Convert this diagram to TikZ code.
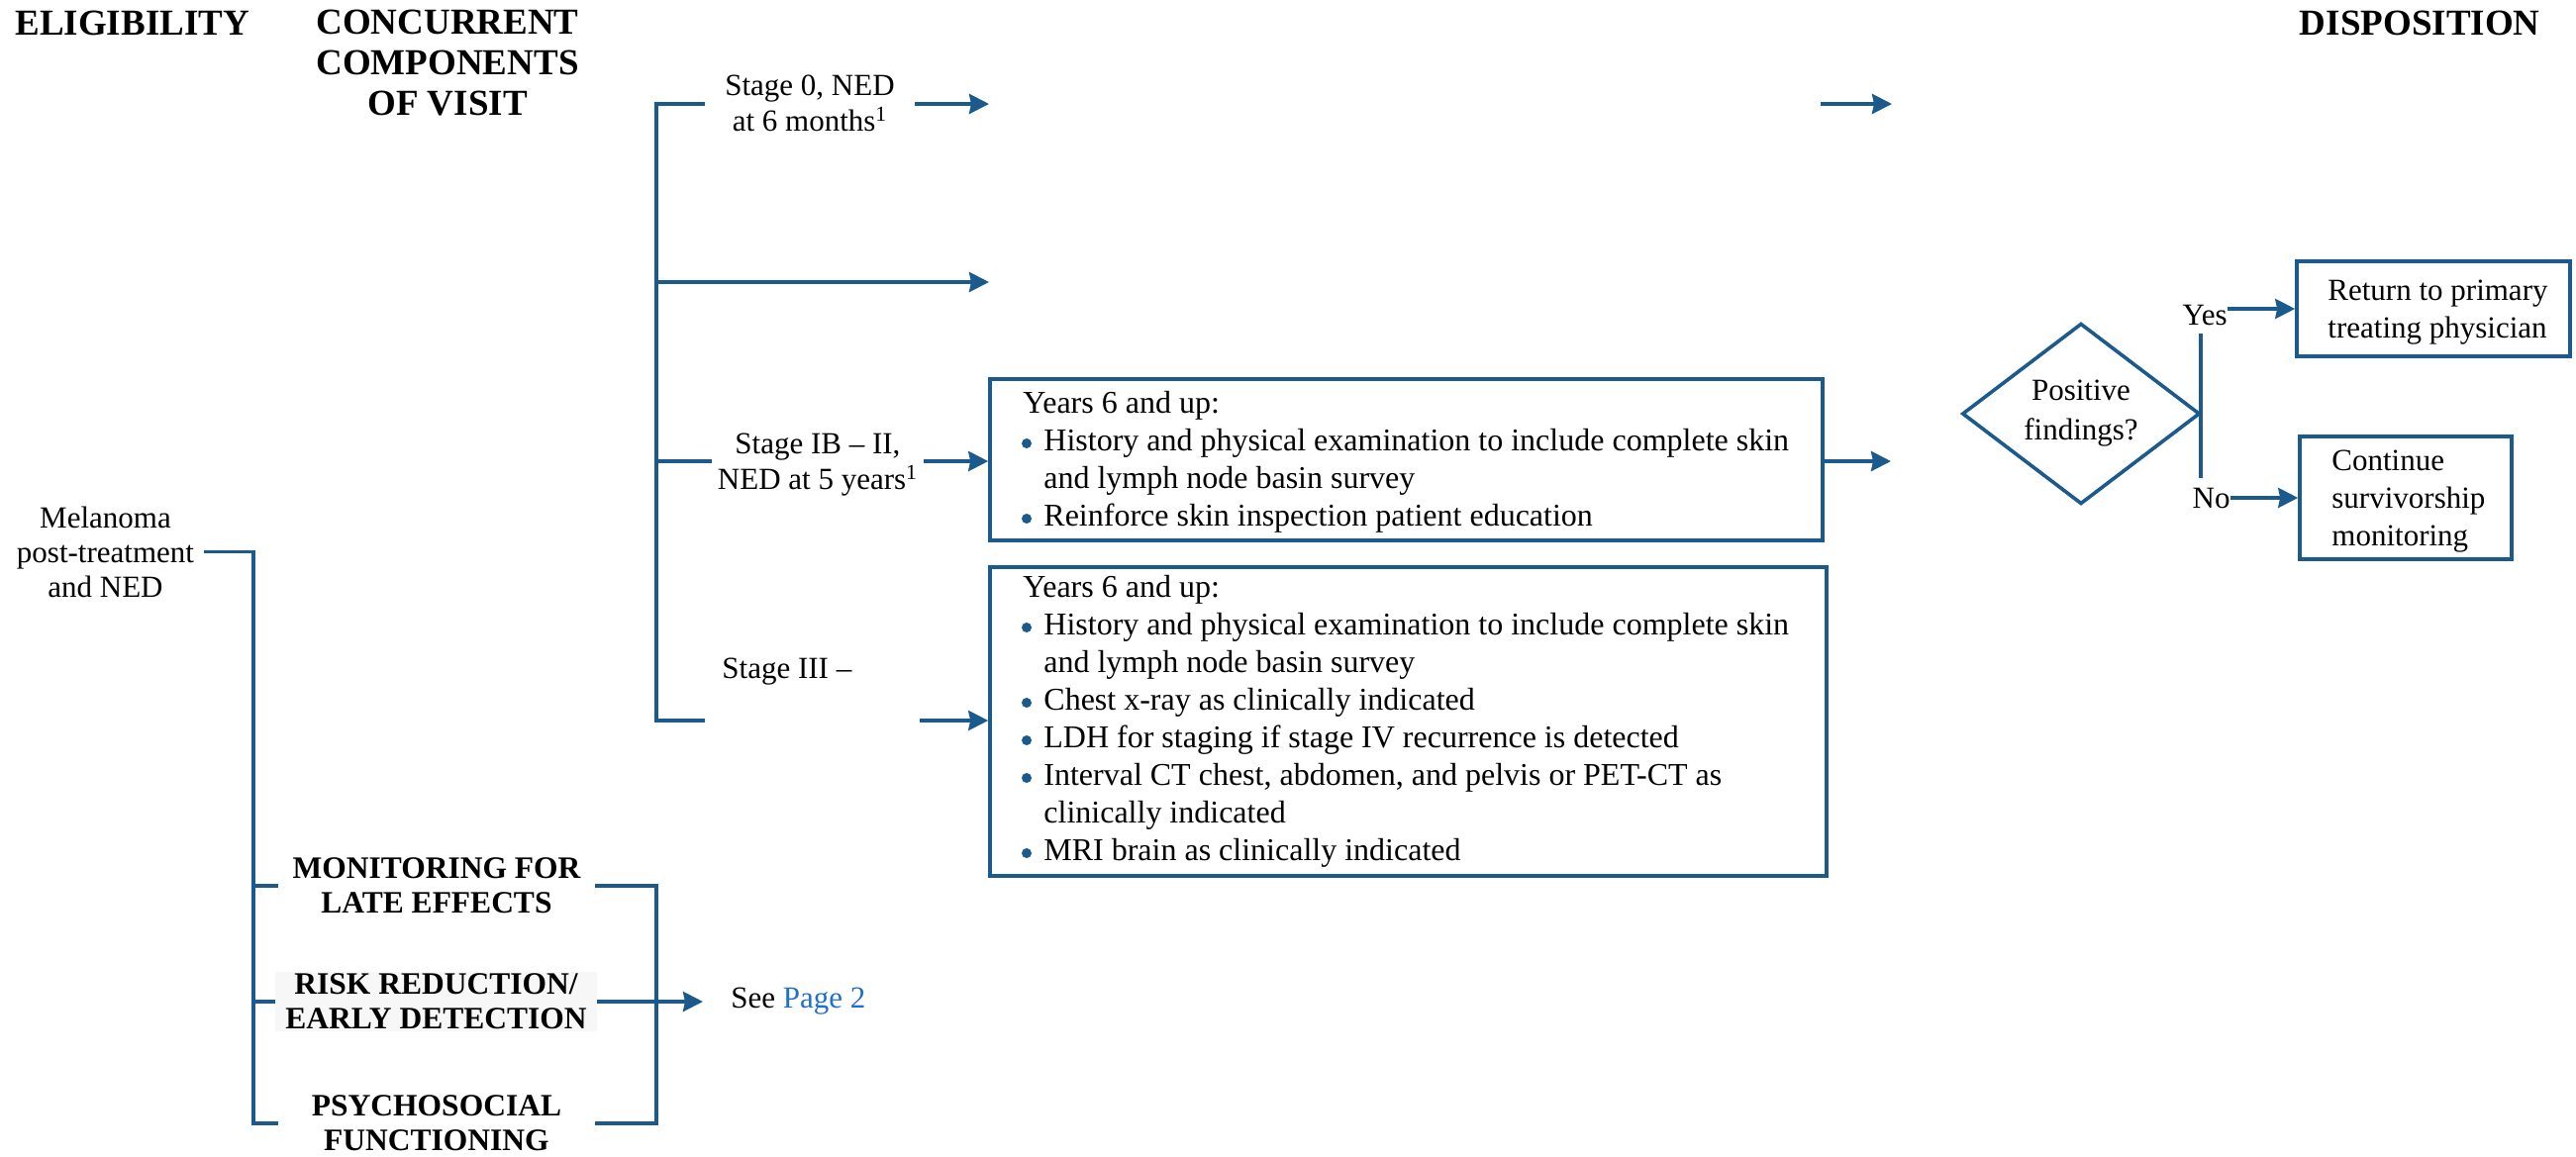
\documentclass[tikz,border=0pt]{standalone}
\usepackage{fontspec}
\setmainfont{Liberation Serif}
\usetikzlibrary{arrows.meta,shapes.geometric}
\definecolor{flowblue}{HTML}{1B5A8C}
\definecolor{pagelink}{HTML}{2170C8}
\begin{document}
\begin{tikzpicture}[x=0.5pt,y=-0.5pt,
  ln/.style={draw=flowblue,line width=1.9pt},
  arr/.style={ln,-{Stealth[length=10pt,width=10pt,inset=1pt]}},
  body/.style={font=\fontsize{15.5}{18}\selectfont,inner sep=0pt},
  hdr/.style={font=\bfseries\fontsize{18.5}{20.5}\selectfont,inner sep=0pt},
  lbl/.style={font=\bfseries\fontsize{15.75}{17.5}\selectfont,inner sep=0pt,minimum width=160pt,align=center},
  boxed/.style={draw=flowblue,line width=1.8pt,inner sep=0pt},
  listtxt/.style={font=\fontsize{15.5}{19}\selectfont,inner sep=0pt,align=left,anchor=base west},
  biglist/.style={listtxt,font=\fontsize{16}{19}\selectfont}
]
\useasboundingbox (0,0) rectangle (2602,1168);

% headers
\node[hdr,anchor=base west] (elig) at (15,35) {ELIGIBILITY};
\node[hdr,align=center] (conc) at (452,63.5) {CONCURRENT\\COMPONENTS\\OF VISIT};
\node[hdr,anchor=base east] (disp) at (2566,35) {DISPOSITION};

% stage labels
\node[body,align=center,inner xsep=10pt] (s0) at (818,104.5) {Stage 0, NED\\at 6 months\textsuperscript{1}};
\node[body,align=center,inner xsep=3pt] (s2) at (826,470) {Stage IB – II,\\NED at 5 years\textsuperscript{1}};
\node[body,anchor=base west] (s3) at (729,685) {Stage III –};

% coordinates of the upper bracket
\coordinate (bt) at (663,105);
\coordinate (bm) at (663,285);
\coordinate (bi) at (663,466);
\coordinate (bb) at (663,728);
\coordinate (bbe) at (712,728);
\coordinate (b3s) at (929,728);
\coordinate (r1e) at (999,105);
\coordinate (r1s) at (1839,105);
\coordinate (r1f) at (1911,105);
\coordinate (r2e) at (999,285);
\coordinate (dA) at (1910,466);

% boxes
\node[boxed,minimum width=420.5pt,minimum height=81.5pt] (B1) at (1420.5,464.5) {};
\node[boxed,minimum width=422.5pt,minimum height=156pt] (B2) at (1422.5,729) {};

% (multi-line text nodes are placed by the baseline of their last line)
\node[biglist] (t1) at (1033,531) {Years 6 and up:\\
\hspace*{10.5pt}History and physical examination to include complete skin\\
\hspace*{10.5pt}and lymph node basin survey\\
\hspace*{10.5pt}Reinforce skin inspection patient education};
\fill[flowblue] (1037,448) circle (2.5pt);
\fill[flowblue] (1037,524) circle (2.5pt);

\node[biglist] (t2) at (1033,869) {Years 6 and up:\\
\hspace*{10.5pt}History and physical examination to include complete skin\\
\hspace*{10.5pt}and lymph node basin survey\\
\hspace*{10.5pt}Chest x-ray as clinically indicated\\
\hspace*{10.5pt}LDH for staging if stage IV recurrence is detected\\
\hspace*{10.5pt}Interval CT chest, abdomen, and pelvis or PET-CT as\\
\hspace*{10.5pt}clinically indicated\\
\hspace*{10.5pt}MRI brain as clinically indicated};
\fill[flowblue] (1037,634) circle (2.5pt);
\fill[flowblue] (1037,710) circle (2.5pt);
\fill[flowblue] (1037,748) circle (2.5pt);
\fill[flowblue] (1037,786) circle (2.5pt);
\fill[flowblue] (1037,862) circle (2.5pt);

% decision
\node[draw=flowblue,line width=1.8pt,diamond,minimum width=120pt,minimum height=84pt,inner sep=0pt,align=center,font=\fontsize{15.5}{20}\selectfont] (dia) at (2102,418) {Positive\\findings?};
\node[body,anchor=base east] (yes) at (2250,328) {Yes};
\node[body,anchor=base east] (no) at (2253,513) {No};
\coordinate (vt) at (2223,337);
\coordinate (vb) at (2223,483);

\node[boxed,minimum width=138pt,minimum height=48pt] (R) at (2458,312) {};
\node[listtxt] (rt) at (2351,341) {Return to primary\\treating physician};
\node[boxed,minimum width=107pt,minimum height=62pt] (C) at (2430,503) {};
\node[listtxt] (ct) at (2355,551) {Continue\\survivorship\\monitoring};

% left side
\node[body,align=center,inner xsep=5pt,font=\fontsize{15.5}{17.5}\selectfont] (mel) at (106.5,557.5) {Melanoma\\post-treatment\\and NED};
\node[lbl] (mon) at (441,895) {MONITORING FOR\\LATE EFFECTS};
\node[lbl,fill=black!3,minimum width=162.5pt,minimum height=30pt] (risk) at (440.5,1012) {RISK REDUCTION/\\EARLY DETECTION};
\node[lbl] (psy) at (441,1135) {PSYCHOSOCIAL\\FUNCTIONING};
\node[body,anchor=west,inner xsep=14pt] (see) at (710,1012) {See \textcolor{pagelink}{Page 2}};
\coordinate (mx) at (256,560);
\coordinate (rx) at (663,1012);

% connectors
\draw[ln] (s0.west |- bt) -- (bt) -- (bb) -- (bbe);
\draw[arr] (s0.east |- bt) -- (r1e);
\draw[arr] (r1s) -- (r1f);
\draw[arr] (bm) -- (r2e);
\draw[ln] (bi) -- (s2.west |- bi);
\draw[arr] (s2.east |- bi) -- (B1.west |- bi);
\draw[arr] (b3s) -- (B2.west |- bb);
\draw[arr] (B1.east |- dA) -- (dA);
\draw[ln] (vt) -- (vb);
\draw[arr] (yes.east |- R.west) -- (R.west);
\draw[arr] (no.east |- C.west) -- (C.west);
\draw[ln] (mel.east) -- (mel.east -| mx) -- (psy.west -| mx) -- (psy.west);
\draw[ln] (mon.west -| mx) -- (mon.west);
\draw[ln] (risk.west -| mx) -- (risk.west);
\draw[ln] (mon.east) -| (rx) |- (psy.east);
\draw[arr] (risk.east) -- (see.west);
\end{tikzpicture}
\end{document}
